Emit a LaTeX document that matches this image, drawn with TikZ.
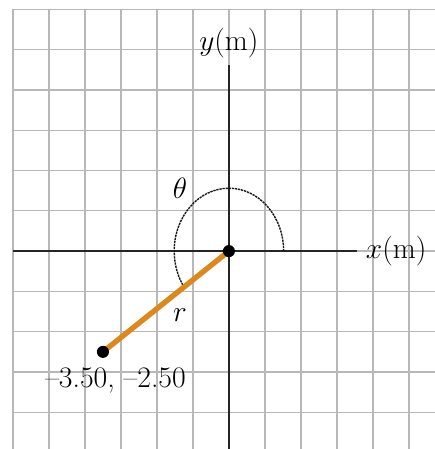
\documentclass[tikz,border=0pt]{standalone}
\usepackage{xcolor}
\usetikzlibrary{calc}

\definecolor{rodorange}{RGB}{218,136,32}

\begin{document}
\begin{tikzpicture}[x=0.893cm, y=1cm,
    every node/.style={font=\fontsize{21}{24}\selectfont},
    gridline/.style={draw=black!28, line width=0.9pt},
    axis/.style={draw=black!85, line width=1pt},
    dot/.style={circle, fill=black, inner sep=0pt, minimum size=0.3cm},
    rline/.style={draw=rodorange, line width=3.8pt},
    anglearc/.style={draw=black!90, line width=1pt, dash pattern=on 1.6pt off 0.6pt}]
  \useasboundingbox (-6.36,-4.91) rectangle (5.72,6.23);
  % grid
  \foreach \gx in {-6,...,5}
    \draw[gridline] (\gx,6) -- (\gx,-4.91);
  \foreach \gy in {-4,...,6}
    \draw[gridline] (-6,\gy) -- (5.72,\gy);
  % axes
  \coordinate (xstart) at (-6,0);
  \coordinate (xend) at (3.56,0);
  \coordinate (ystart) at (0,-4.91);
  \coordinate (yend) at (0,4.62);
  \draw[axis] (xstart) -- (xend);
  \draw[axis] (ystart) -- (yend);
  \node[anchor=west, inner sep=0pt] (xlabel) at (3.8,0) {$x$(m)};
  \node (ylabel) at (0,5.16) {$y$(m)};
  % angle and position vector
  \draw[anglearc] (1.52,0) arc[start angle=0, end angle=215.5, x radius=1.52, y radius=1.56];
  \node (theta) at (-1.36,1.55) {$\theta$};
  \coordinate (origin) at (0,0);
  \coordinate (tip) at (-3.5,-2.5);
  \draw[rline] (origin) -- (tip);
  \node[dot] (odot) at (origin) {};
  \node[dot] (pdot) at (tip) {};
  \node (rlabel) at (-1.36,-1.6) {$r$};
  \node (ptlabel) at (-3.15,-3.2) {--3.50, --2.50};
\end{tikzpicture}
\end{document}
